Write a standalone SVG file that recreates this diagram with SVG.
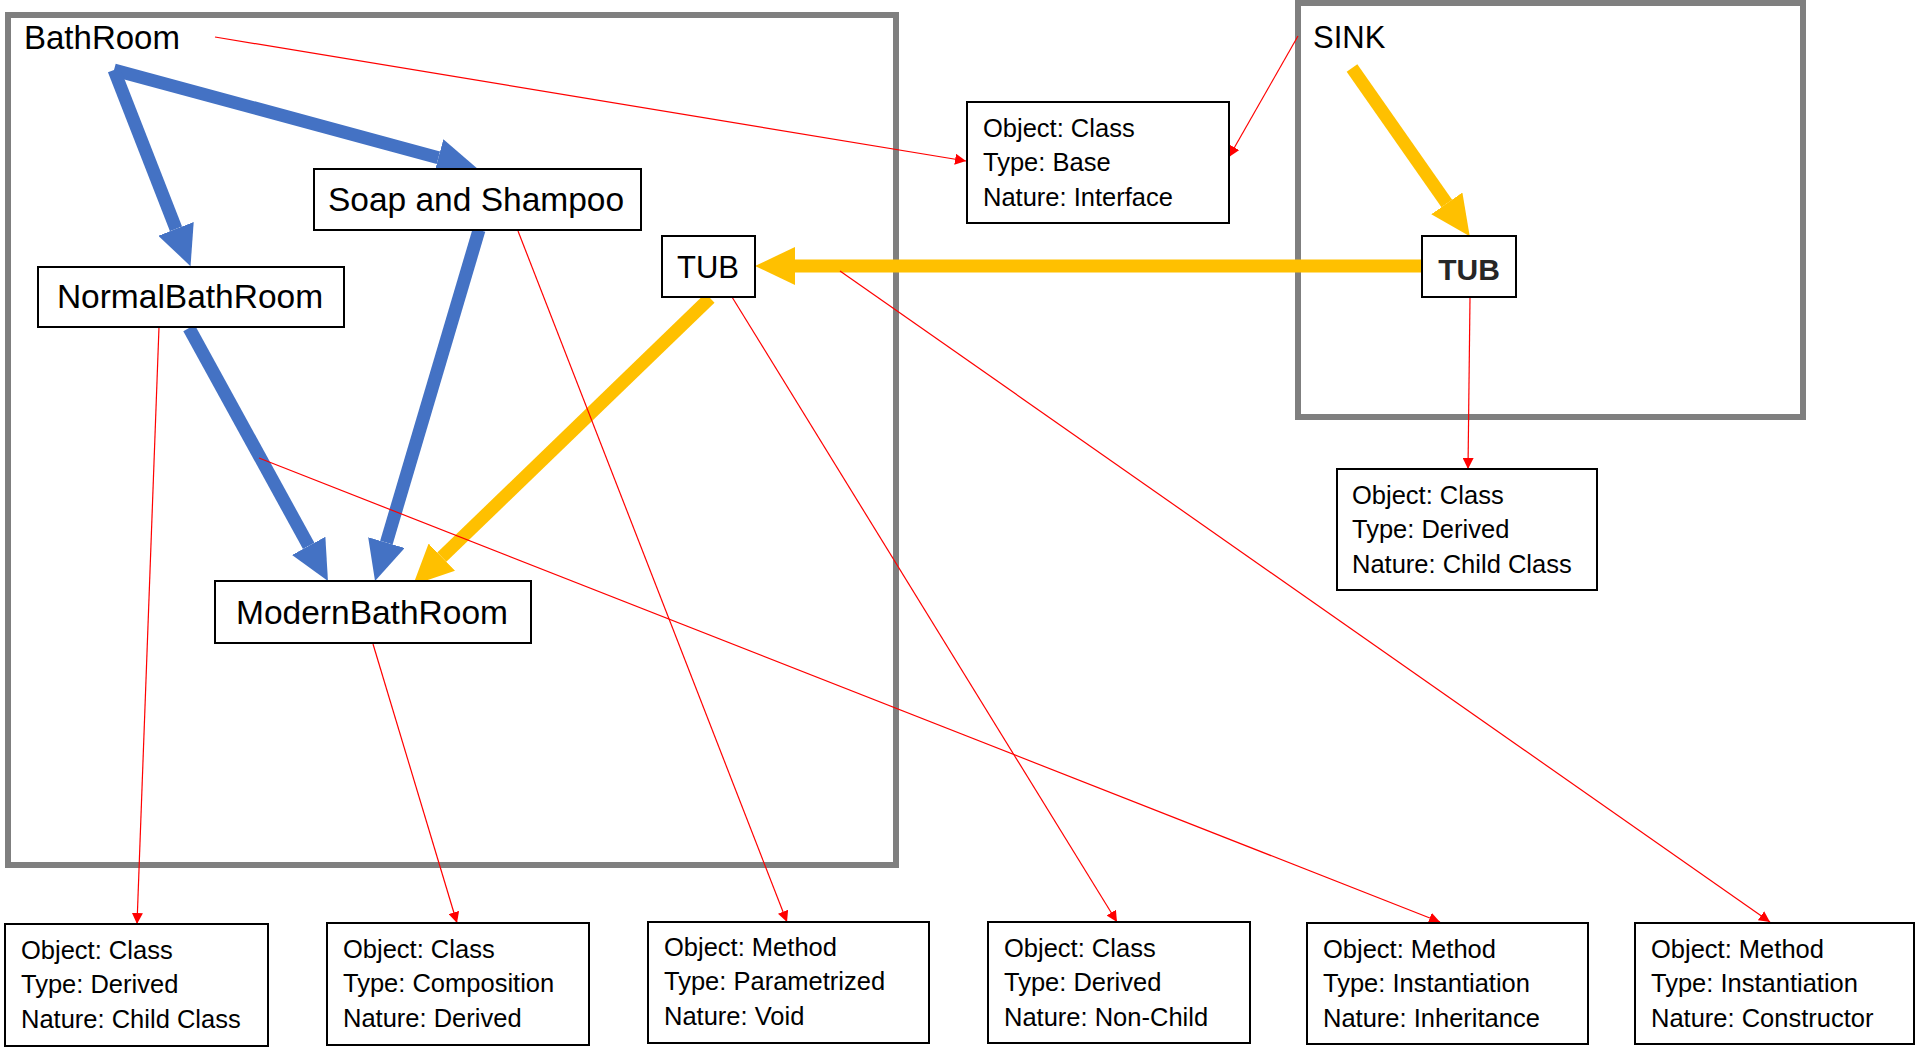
<svg xmlns="http://www.w3.org/2000/svg" width="1916" height="1056" viewBox="0 0 1916 1056">
<style>
.frame{fill:none;stroke:#7F7F7F;stroke-width:6}
.box{fill:#FFFFFF;stroke:#000000;stroke-width:2}
.lbl{font-family:"Liberation Sans",Arial,sans-serif;font-size:33.5px;fill:#000000}
.ttl{font-family:"Liberation Sans",Arial,sans-serif;font-size:33px;fill:#000000}
.info{font-family:"Liberation Sans",Arial,sans-serif;font-size:25.5px;fill:#000000}
.blue{stroke:#4472C4;stroke-width:13;fill:none;marker-end:url(#hb)}
.yel{stroke:#FFC000;stroke-width:13;fill:none;marker-end:url(#hy)}
.red{stroke:#FF0000;stroke-width:1.2;fill:none;marker-end:url(#hr)}
</style>
<defs>
<marker id="hb" markerUnits="userSpaceOnUse" markerWidth="40" markerHeight="38" refX="0" refY="19" orient="auto"><path d="M0,0 L40,19 L0,38 z" fill="#4472C4"/></marker>
<marker id="hy" markerUnits="userSpaceOnUse" markerWidth="40" markerHeight="38" refX="0" refY="19" orient="auto"><path d="M0,0 L40,19 L0,38 z" fill="#FFC000"/></marker>
<marker id="hr" markerUnits="userSpaceOnUse" markerWidth="11" markerHeight="11" refX="11" refY="5.5" orient="auto"><path d="M0,0 L11,5.5 L0,11 z" fill="#FF0000"/></marker>
</defs>
<rect width="1916" height="1056" fill="#FFFFFF"/>

<g id="frame-bathroom">
<rect class="frame" x="8" y="15" width="888" height="850"/>
<text class="ttl" x="24" y="49">BathRoom</text>
</g>
<g id="frame-sink">
<rect class="frame" x="1298" y="3" width="505" height="414"/>
<text class="ttl" x="1313" y="48" style="font-size:31px">SINK</text>
</g>

<g id="connectors">
<line class="blue" x1="114" y1="70" x2="438.4" y2="157.7"/>
<line class="blue" x1="114" y1="70" x2="176" y2="228.9"/>
<line class="blue" x1="189" y1="328" x2="308.7" y2="545.9"/>
<line class="blue" x1="479" y1="230" x2="386.4" y2="542.6"/>
<line class="yel" x1="710" y1="298" x2="441.8" y2="557.2"/>
<line class="yel" x1="1422" y1="266" x2="795" y2="266"/>
<line class="yel" x1="1352" y1="68" x2="1446.8" y2="203.4"/>
<line class="red" x1="215" y1="37" x2="966" y2="161"/>
<line class="red" x1="1298" y1="36" x2="1229" y2="157"/>
<line class="red" x1="1470" y1="298" x2="1468" y2="469"/>
<line class="red" x1="159" y1="327" x2="137" y2="924"/>
<line class="red" x1="373" y1="644" x2="457" y2="923"/>
<line class="red" x1="518" y1="231" x2="787" y2="922"/>
<line class="red" x1="732" y1="297" x2="1117" y2="922"/>
<line class="red" x1="259" y1="458" x2="1440" y2="922"/>
<line class="red" x1="840" y1="271" x2="1770" y2="922"/>
</g>

<g id="soap">
<rect class="box" x="314" y="169" width="327" height="61"/>
<text class="lbl" x="476" y="211" text-anchor="middle">Soap and Shampoo</text>
</g>
<g id="normal">
<rect class="box" x="38" y="267" width="306" height="60"/>
<text class="lbl" x="190" y="308" text-anchor="middle">NormalBathRoom</text>
</g>
<g id="modern">
<rect class="box" x="215" y="581" width="316" height="62"/>
<text class="lbl" x="372" y="624" text-anchor="middle">ModernBathRoom</text>
</g>
<g id="tub-left">
<rect class="box" x="662" y="236" width="93" height="61"/>
<text class="lbl" x="708" y="278" text-anchor="middle" style="font-size:31px">TUB</text>
</g>
<g id="tub-right">
<rect class="box" x="1422" y="236" width="94" height="61"/>
<text class="lbl" x="1469" y="280" text-anchor="middle" style="font-size:30px;font-weight:bold;fill:#262626">TUB</text>
</g>

<g id="info-base">
<rect class="box" x="967" y="102" width="262" height="121"/>
<text class="info" x="983" y="137">Object: Class</text>
<text class="info" x="983" y="171">Type: Base</text>
<text class="info" x="983" y="206">Nature: Interface</text>
</g>
<g id="info-tub">
<rect class="box" x="1337" y="469" width="260" height="121"/>
<text class="info" x="1352" y="504">Object: Class</text>
<text class="info" x="1352" y="538">Type: Derived</text>
<text class="info" x="1352" y="573">Nature: Child Class</text>
</g>
<g id="info-1">
<rect class="box" x="5" y="924" width="263" height="122"/>
<text class="info" x="21" y="959">Object: Class</text>
<text class="info" x="21" y="993">Type: Derived</text>
<text class="info" x="21" y="1028">Nature: Child Class</text>
</g>
<g id="info-2">
<rect class="box" x="327" y="923" width="262" height="122"/>
<text class="info" x="343" y="958">Object: Class</text>
<text class="info" x="343" y="992">Type: Composition</text>
<text class="info" x="343" y="1027">Nature: Derived</text>
</g>
<g id="info-3">
<rect class="box" x="648" y="922" width="281" height="121"/>
<text class="info" x="664" y="956">Object: Method</text>
<text class="info" x="664" y="990">Type: Parametrized</text>
<text class="info" x="664" y="1025">Nature: Void</text>
</g>
<g id="info-4">
<rect class="box" x="988" y="922" width="262" height="121"/>
<text class="info" x="1004" y="957">Object: Class</text>
<text class="info" x="1004" y="991">Type: Derived</text>
<text class="info" x="1004" y="1026">Nature: Non-Child</text>
</g>
<g id="info-5">
<rect class="box" x="1307" y="923" width="281" height="121"/>
<text class="info" x="1323" y="958">Object: Method</text>
<text class="info" x="1323" y="992">Type: Instantiation</text>
<text class="info" x="1323" y="1027">Nature: Inheritance</text>
</g>
<g id="info-6">
<rect class="box" x="1635" y="923" width="279" height="121"/>
<text class="info" x="1651" y="958">Object: Method</text>
<text class="info" x="1651" y="992">Type: Instantiation</text>
<text class="info" x="1651" y="1027">Nature: Constructor</text>
</g>
</svg>
